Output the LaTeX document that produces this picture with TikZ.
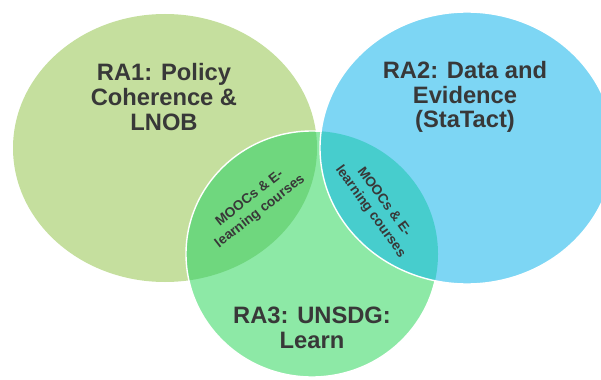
\documentclass[tikz,border=0pt]{standalone}
\usepackage{fontspec}
\setmainfont{Liberation Sans}
\definecolor{raone}{HTML}{C5DF9E}
\definecolor{ratwo}{HTML}{7DD6F4}
\definecolor{rathree}{HTML}{8DE9A6}
\definecolor{lensone}{HTML}{6FD77E}
\definecolor{lenstwo}{HTML}{47CDCD}
\definecolor{txtgrey}{HTML}{383838}

\begin{document}
\begin{tikzpicture}[line cap=round,line join=round,x=0.02cm,y=0.02cm,
		head/.style={text=txtgrey,align=center,font=\bfseries\fontsize{13.5}{14}\selectfont},
		lenstxt/.style={text=txtgrey,align=center,font=\bfseries\fontsize{7.8}{9.6}\selectfont}]
		\clip(0,0) rectangle (601,379);
		% RA1 and RA3
		\fill[raone] (165,231) ellipse (152 and 134);
		\fill[rathree] (312,125) ellipse (126 and 123);
		\begin{scope}
			\clip (312,125) ellipse (126 and 123);
			\fill[lensone] (165,231) ellipse (152 and 134);
		\end{scope}
		\draw[white,line width=0.8pt] (312,125) ellipse (126 and 123);
		% RA2
		\fill[ratwo] (467,231) ellipse (147 and 136);
		\begin{scope}
			\clip (467,231) ellipse (147 and 136);
			\fill[lenstwo] (312,125) ellipse (126 and 123);
		\end{scope}
		\draw[white,line width=0.8pt] (467,231) ellipse (147 and 136);
		% labels
		\node[head] (raonetxt) at (164,282) {RA1: Policy\\Coherence \&\\LNOB};
		\node[head] (ratwotxt) at (465,282) {RA2: Data and\\Evidence\\(StaTact)};
		\node[head] (rathreetxt) at (312,51) {RA3: UNSDG:\\Learn};
		\node[lenstxt,rotate=38] (lensonetxt) at (255,174) {MOOCs \& E-\\learning courses};
		\node[lenstxt,rotate=-54] (lenstwotxt) at (377,172) {MOOCs \& E-\\learning courses};
\end{tikzpicture}
\end{document}
